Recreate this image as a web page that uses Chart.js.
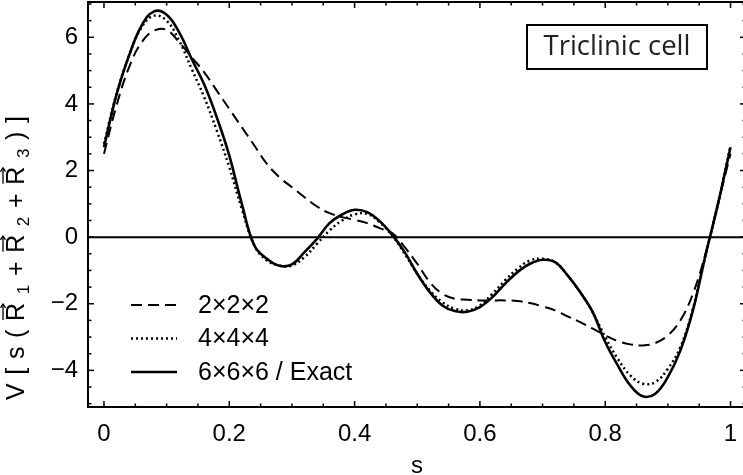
<!DOCTYPE html>
<html>
<head>
<meta charset="utf-8">
<script src="https://cdn.jsdelivr.net/npm/chart.js@4/dist/chart.umd.min.js"></script>
<style>
  html, body { margin: 0; padding: 0; background: #fff; overflow: hidden; width: 743px; height: 475px; }
  #wrap { position: relative; width: 750px; height: 475px; }
</style>
</head>
<body>
<div id="wrap"><canvas id="c" width="750" height="475"></canvas></div>
<script>
// Position along the body diagonal, s
const sValues = [
  0.00, 0.02, 0.04, 0.06, 0.08, 0.10, 0.12, 0.14, 0.16, 0.18,
  0.20, 0.22, 0.24, 0.26, 0.28, 0.30, 0.32, 0.34, 0.36, 0.38,
  0.40, 0.42, 0.44, 0.46, 0.48, 0.50, 0.52, 0.54, 0.56, 0.58,
  0.60, 0.62, 0.64, 0.66, 0.68, 0.70, 0.72, 0.74, 0.76, 0.78,
  0.80, 0.82, 0.84, 0.86, 0.88, 0.90, 0.92, 0.94, 0.96, 0.98,
  1.00
];

// 2x2x2 grid
const grid2 = [
  2.50, 3.95, 5.10, 5.85, 6.20, 6.22, 5.85, 5.40, 4.95, 4.40,
  3.85, 3.30, 2.75, 2.20, 1.80, 1.50, 1.20, 0.92, 0.72, 0.60,
  0.52, 0.42, 0.27, 0.12, -0.30, -0.80, -1.35, -1.70, -1.85, -1.88,
  -1.90, -1.90, -1.90, -1.92, -1.98, -2.08, -2.20, -2.38, -2.55, -2.75,
  -2.95, -3.12, -3.22, -3.25, -3.18, -2.95, -2.50, -1.70, -0.50, 1.00,
  2.50
];

// 4x4x4 grid
const grid4 = [
  2.80, 4.30, 5.45, 6.30, 6.65, 6.50, 5.90, 5.05, 4.20, 3.20,
  2.10, 0.85, -0.25, -0.70, -0.85, -0.85, -0.60, -0.20, 0.20, 0.50,
  0.68, 0.70, 0.45, 0.05, -0.50, -1.10, -1.60, -1.95, -2.15, -2.20,
  -2.05, -1.70, -1.30, -0.95, -0.70, -0.65, -0.75, -1.15, -1.65, -2.25,
  -3.00, -3.65, -4.15, -4.40, -4.35, -3.95, -3.30, -2.15, -0.55, 1.00,
  2.75
];

// 6x6x6 grid (coincides with the exact result)
const grid6 = [
  2.70, 4.28, 5.45, 6.35, 6.78, 6.68, 6.15, 5.35, 4.58, 3.60,
  2.45, 1.00, -0.25, -0.65, -0.86, -0.82, -0.45, -0.05, 0.42, 0.68,
  0.82, 0.75, 0.48, 0.07, -0.45, -1.10, -1.65, -2.05, -2.22, -2.24,
  -2.10, -1.80, -1.40, -1.05, -0.80, -0.68, -0.75, -1.15, -1.65, -2.25,
  -3.15, -3.85, -4.45, -4.78, -4.70, -4.20, -3.40, -2.20, -0.55, 1.00,
  2.70
];

const seriesNames = ['2\u00d72\u00d72', '4\u00d74\u00d74', '6\u00d76\u00d76 / Exact'];
const xTickValues = [0, 0.2, 0.4, 0.6, 0.8, 1];
const xTickLabels = ['0', '0.2', '0.4', '0.6', '0.8', '1'];
const yTickValues = [-4, -2, 0, 2, 4, 6];
const yTickLabels = ['\u22124', '\u22122', '0', '2', '4', '6'];
const boxLabel = 'Triclinic cell';
const xTitle = 's';

const FONT = '"Liberation Sans", Arial, Helvetica, sans-serif';
const styles = [
  { borderDash: [11, 6], borderWidth: 2 },
  { borderDash: [2, 3], borderWidth: 2.5 },
  { borderDash: [], borderWidth: 2.6 }
];

const pts = arr => sValues.map((s, i) => ({ x: s, y: arr[i] }));
const datasets = [grid2, grid4, grid6].map((arr, i) => ({
  label: seriesNames[i],
  data: pts(arr),
  borderColor: '#000',
  backgroundColor: '#000',
  borderWidth: styles[i].borderWidth,
  borderDash: styles[i].borderDash,
  borderCapStyle: 'butt',
  pointRadius: 0,
  fill: false,
  tension: 0.4
}));

function line(ctx, x1, y1, x2, y2) {
  ctx.beginPath(); ctx.moveTo(x1, y1); ctx.lineTo(x2, y2); ctx.stroke();
}

// Y-axis title drawn piece by piece: vector arrows over R, subscripts 1..3,
// spread evenly over the requested length
function drawYTitle(ctx, cx, cy, span) {
  const parts = [
    { t: 'V' }, { t: '[' }, { t: 's' }, { t: '(' },
    { t: 'R', vec: true }, { t: '1', sub: true },
    { t: '+' }, { t: 'R', vec: true }, { t: '2', sub: true },
    { t: '+' }, { t: 'R', vec: true }, { t: '3', sub: true },
    { t: ')' }, { t: ']' }
  ];
  const big = '25px ' + FONT, small = '17px ' + FONT;
  let total = 0;
  for (const p of parts) { ctx.font = p.sub ? small : big; p.w = ctx.measureText(p.t).width; total += p.w; }
  const gap = Math.max(0, (span - total) / (parts.length - 1));
  ctx.save();
  ctx.translate(cx, cy);
  ctx.rotate(-Math.PI / 2);
  ctx.fillStyle = '#000'; ctx.strokeStyle = '#000';
  ctx.textBaseline = 'alphabetic'; ctx.textAlign = 'left';
  let x = -(total + gap * (parts.length - 1)) / 2;
  for (const p of parts) {
    ctx.font = p.sub ? small : big;
    ctx.fillText(p.t, x, p.sub ? 5 : 0);
    if (p.vec) {
      const ay = -21;
      ctx.lineWidth = 1.3;
      line(ctx, x + 1, ay, x + p.w - 1, ay);
      ctx.beginPath();
      ctx.moveTo(x + p.w - 1, ay); ctx.lineTo(x + p.w - 5, ay - 2.5);
      ctx.moveTo(x + p.w - 1, ay); ctx.lineTo(x + p.w - 5, ay + 2.5);
      ctx.stroke();
    }
    x += p.w + gap;
  }
  ctx.restore();
}

const decor = {
  id: 'decor',
  beforeDatasetsDraw(chart) {
    const { ctx, chartArea: a, scales: { y: ys } } = chart;
    ctx.save();
    ctx.strokeStyle = '#000';
    ctx.lineWidth = 2;
    const y0 = ys.getPixelForValue(0);
    line(ctx, a.left, y0, a.right, y0);
    ctx.restore();
  },
  afterDatasetsDraw(chart) {
    const { ctx, chartArea: a, scales: { x: xs, y: ys } } = chart;
    ctx.save();
    ctx.strokeStyle = '#000';
    ctx.lineCap = 'butt';

    // frame
    ctx.lineWidth = 2;
    ctx.strokeRect(a.left, a.top, a.right - a.left, a.bottom - a.top);

    // inward ticks on all four sides
    ctx.lineWidth = 1.5;
    for (let k = 0; k <= 20; k++) {
      const v = k * 0.05;
      const px = xs.getPixelForValue(v);
      const len = (k % 4 === 0) ? 6 : 3.5;
      line(ctx, px, a.bottom, px, a.bottom - len);
      line(ctx, px, a.top, px, a.top + len);
    }
    for (let k = -10; k <= 14; k++) {
      const v = k * 0.5;
      const py = ys.getPixelForValue(v);
      if (py < a.top || py > a.bottom) continue;
      const len = (k % 4 === 0) ? 6 : 3.5;
      line(ctx, a.left, py, a.left + len, py);
      line(ctx, a.right, py, a.right - len, py);
    }

    // legend
    const rows = [305, 338.5, 372];
    chart.data.datasets.forEach((ds, i) => {
      ctx.save();
      ctx.lineWidth = ds.borderWidth;
      ctx.setLineDash(ds.borderDash);
      line(ctx, 131, rows[i], 177, rows[i]);
      ctx.restore();
      ctx.fillStyle = '#000';
      ctx.font = '25px ' + FONT;
      ctx.textBaseline = 'middle';
      ctx.textAlign = 'left';
      ctx.fillText(ds.label, 198, rows[i] + 1);
    });

    // annotation box
    ctx.lineWidth = 2;
    ctx.strokeRect(527, 25, 180, 44);
    ctx.fillStyle = '#231f20';
    ctx.font = '27.5px "Open Sans", sans-serif';
    ctx.textAlign = 'center';
    ctx.textBaseline = 'middle';
    ctx.fillText(boxLabel, 617, 47);

    // axis titles
    ctx.fillStyle = '#000';
    ctx.font = '24px ' + FONT;
    ctx.textAlign = 'center';
    ctx.textBaseline = 'alphabetic';
    ctx.fillText(xTitle, (a.left + a.right) / 2, 473);
    drawYTitle(ctx, 24, 258, 284);
    ctx.restore();
  }
};

const noPad = s => { s.paddingTop = 0; s.paddingBottom = 0; s.paddingLeft = 0; s.paddingRight = 0; };

new Chart(document.getElementById('c'), {
  type: 'line',
  data: { datasets },
  options: {
    responsive: false,
    animation: false,
    devicePixelRatio: 1,
    layout: { padding: { top: 2, right: 4, left: 0, bottom: 0 } },
    plugins: { legend: { display: false }, tooltip: { enabled: false } },
    scales: {
      x: {
        type: 'linear',
        min: -0.0255,
        max: 1.0247,
        grid: { display: false },
        border: { display: false },
        afterFit: s => { s.height = 68; noPad(s); },
        afterBuildTicks: s => { s.ticks = xTickValues.map(v => ({ value: v })); },
        ticks: {
          padding: 5,
          color: '#000',
          font: { family: FONT, size: 24 },
          maxRotation: 0,
          autoSkip: false,
          callback: (v) => xTickLabels[xTickValues.indexOf(v)] ?? ''
        }
      },
      y: {
        min: -5.10,
        max: 7.06,
        grid: { display: false },
        border: { display: false },
        afterFit: s => { s.width = 88; noPad(s); },
        afterBuildTicks: s => { s.ticks = yTickValues.map(v => ({ value: v })); },
        ticks: {
          padding: 2,
          color: '#000',
          font: { family: FONT, size: 24 },
          autoSkip: false,
          callback: (v) => yTickLabels[yTickValues.indexOf(v)] ?? ''
        }
      }
    }
  },
  plugins: [decor]
});
</script>
</body>
</html>
